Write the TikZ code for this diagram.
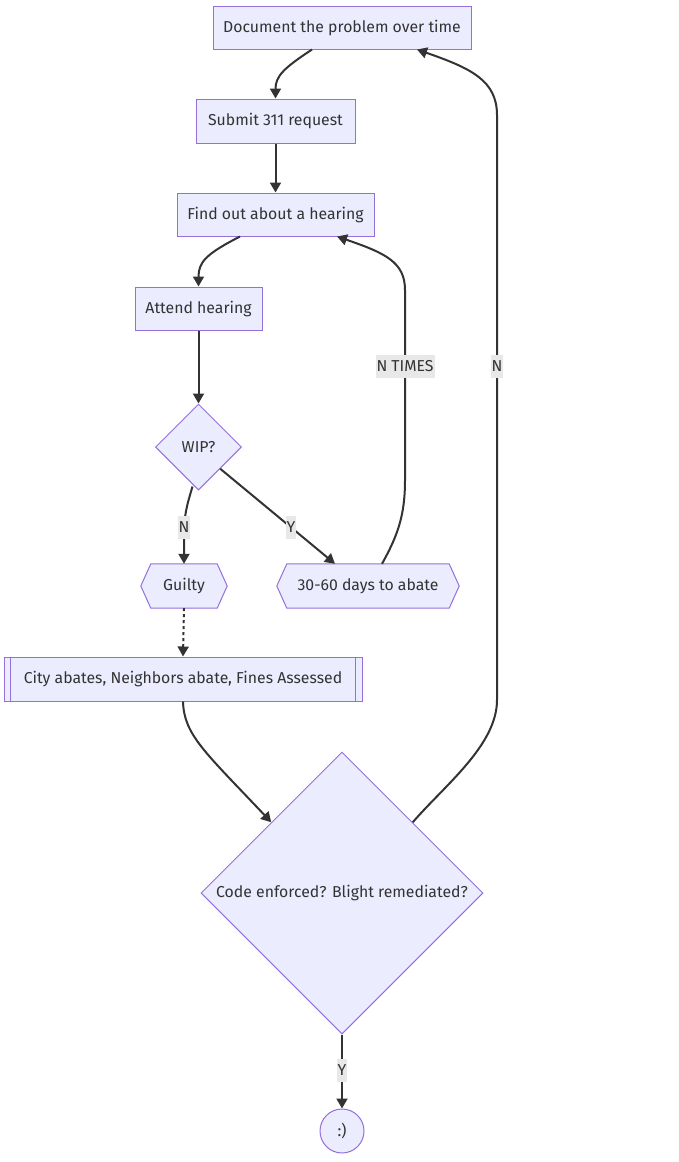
\documentclass[tikz,border=0pt]{standalone}
\usepackage{fontspec}
\setmainfont{Fira Sans}
\usetikzlibrary{shapes.geometric,arrows.meta,backgrounds,calc}
\definecolor{nodefill}{HTML}{ECECFF}
\definecolor{nodeline}{HTML}{9370DB}
\definecolor{edgecol}{HTML}{333333}
\definecolor{labelbg}{HTML}{E8E8E8}
\begin{document}
\begin{tikzpicture}[x=1pt,y=-1pt,
  every node/.style={font=\fontsize{15.8}{18}\selectfont, text=edgecol},
  box/.style={draw=nodeline, fill=nodefill, line width=1pt, inner sep=0pt, minimum height=43pt, text depth=0pt, text height=9pt},
  hexbox/.style={inner sep=0pt, minimum height=44pt},
  hexline/.style={draw=nodeline, fill=nodefill, line width=1pt},
  decision/.style={diamond, aspect=1, draw=nodeline, fill=nodefill, line width=1pt, inner sep=0pt},
  endcircle/.style={circle, draw=nodeline, fill=nodefill, line width=1pt, inner sep=0pt, minimum size=44pt},
  flow/.style={draw=edgecol, line width=2pt, -{Triangle[length=10pt,width=11pt]}},
  dotflow/.style={flow, dash pattern=on 3pt off 3pt},
  elabel/.style={fill=labelbg, inner xsep=1pt, inner ysep=0pt, minimum height=23pt}
]
\useasboundingbox (0,0) rectangle (678,1162);

% nodes
\node[box, minimum width=258pt] (doc) at (342,27.5) {Document the problem over time};
\node[box, minimum width=159pt, minimum height=44pt] (submit) at (275.5,121) {Submit 311 request};
\node[box, minimum width=197pt] (find) at (275.5,214.5) {Find out about a hearing};
\node[box, minimum width=127pt] (attend) at (198.5,308.5) {Attend hearing};
\node[decision, minimum width=86pt, minimum height=86pt] (wip) at (198.5,447) {WIP?};
\node[hexbox, minimum width=86pt] (guilty) at (184,586) {Guilty};
\node[hexbox, minimum width=182pt] (abate) at (368,586) {30-60 days to abate};
\node[box, minimum width=358pt, minimum height=44pt] (city) at (183,679) {City abates, Neighbors abate, Fines Assessed};
\node[decision, minimum width=282pt, minimum height=282pt] (code) at (342,893) {Code enforced? Blight remediated?};
\node[endcircle] (smile) at (342,1131) {:)};

% subroutine side bars
\draw[draw=nodeline, line width=1pt] ([xshift=7pt]city.north west) -- ([xshift=7pt]city.south west);
\draw[draw=nodeline, line width=1pt] ([xshift=-7pt]city.north east) -- ([xshift=-7pt]city.south east);

% hexagons
\begin{scope}[on background layer]
\draw[hexline] (guilty.west) -- ([xshift=10pt]guilty.north west) -- ([xshift=-10pt]guilty.north east) -- (guilty.east) -- ([xshift=-10pt]guilty.south east) -- ([xshift=10pt]guilty.south west) -- cycle;
\draw[hexline] (abate.west) -- ([xshift=10pt]abate.north west) -- ([xshift=-10pt]abate.north east) -- (abate.east) -- ([xshift=-10pt]abate.south east) -- ([xshift=10pt]abate.south west) -- cycle;
\end{scope}

% edges
\draw[flow] ([xshift=-30pt]doc.south) .. controls (284,68) and (275.5,76) .. (submit.north);
\draw[flow] (submit.south) -- (find.north);
\draw[flow] ([xshift=-35.5pt]find.south) .. controls (206,254) and (198.5,262) .. (attend.north);
\draw[flow] (attend.south) -- (wip.north);
\draw[flow] ($(wip.south)+(-6,-4)$) .. controls (187,505) and (184,515) .. (184,535) -- (guilty.north);
\draw[flow] (wip.south east) -- ([xshift=-33pt]abate.north);
\draw[flow] ([xshift=14pt]abate.north) .. controls (398,535) and (405,515) .. (405,480) -- (405,290) .. controls (405,262) and (385,253) .. ([xshift=61.5pt]find.south);
\draw[dotflow] (guilty.south) -- (city.north);
\draw[flow] (city.south) .. controls (184,735) and (205,752) .. (code.north west);
\draw[flow] (code.north east) .. controls (445,785) and (497,745) .. (497,700) -- (497,115) .. controls (497,80) and (470,68) .. ([xshift=75pt]doc.south);
\draw[flow] (code.south) -- (smile.north);

% edge labels
\node[elabel] (lN1) at (184,527) {N};
\node[elabel] (lY1) at (291,527) {Y};
\node[elabel] (lNT) at (405,366) {N TIMES};
\node[elabel] (lN2) at (497,366) {N};
\node[elabel] (lY2) at (342,1070) {Y};
\end{tikzpicture}
\end{document}
